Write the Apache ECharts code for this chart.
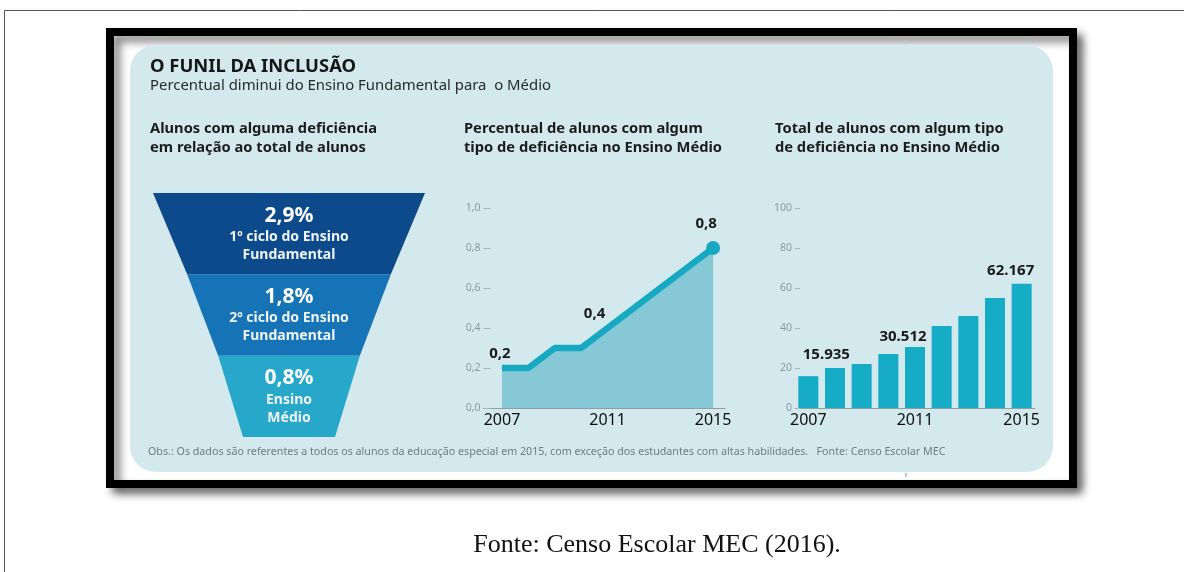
<!DOCTYPE html>
<html><head><meta charset="utf-8">
<script src="https://cdn.jsdelivr.net/npm/echarts@6/dist/echarts.min.js"></script>
<style>html,body{margin:0;padding:0;background:#fff}#c{width:1184px;height:572px}</style>
</head><body><div id="c"></div>
<script>
// ---- data ----
const stageNames = ['1º ciclo do Ensino\nFundamental', '2º ciclo do Ensino\nFundamental', 'Ensino\nMédio'];
const stagePct = [2.9, 1.8, 0.8];
const years = [2007, 2008, 2009, 2010, 2011, 2012, 2013, 2014, 2015];
const pctMedio = [0.2, 0.2, 0.3, 0.3, 0.4, 0.5, 0.6, 0.7, 0.8];
const totalMedio = [15.935, 20, 22, 27, 30.512, 41, 46, 55, 62.167]; // thousands
const yearTicks = [2007, 2011, 2015];
const labeledIdx = [0, 4, 8];

const FONT = 'Noto Sans';
const fmtComma = v => String(v).replace('.', ',');

const lineLabelOffsets = {0: [-2, 0], 4: [-13, 0], 8: [-7, -4]};
const barLabelOffsets = {0: [18, -9], 4: [-12, 2], 8: [-11, 0]};

const lineData = years.map((y, i) => {
  const d = {value: [y, pctMedio[i]], symbolSize: i === years.length - 1 ? 14 : 1};
  if (labeledIdx.includes(i)) d.label = {show: true, offset: lineLabelOffsets[i]};
  return d;
});
const barData = totalMedio.map((v, i) => {
  const d = {value: v};
  if (labeledIdx.includes(i)) d.label = {show: true, offset: barLabelOffsets[i]};
  return d;
});
const funnelData = stageNames.map((n, i) => ({name: n, value: stagePct[i]}));
const funnelColors = ['#0d4a8b', '#1673b6', '#27a8cb'];

const chart = echarts.init(document.getElementById('c'), null, {renderer: 'canvas'});

const txt = (x, y, text, size, weight, color, extra) => Object.assign({
  type: 'text', x: x, y: y, z: 10,
  style: Object.assign({text: text, fontFamily: FONT, fontSize: size, fontWeight: weight, fill: color, verticalAlign: 'middle'}, extra || {})
});

chart.setOption({
  animation: false,
  graphic: [
    {type: 'line', shape: {x1: 4.5, y1: 10.5, x2: 1184, y2: 10.5}, style: {stroke: '#555', lineWidth: 1}, z: -20},
    {type: 'line', shape: {x1: 4.5, y1: 10.5, x2: 4.5, y2: 572}, style: {stroke: '#555', lineWidth: 1}, z: -20},
    {type: 'rect', shape: {x: 110, y: 32, width: 963, height: 452}, z: -20,
      style: {fill: '#ffffff', stroke: '#000', lineWidth: 8, shadowBlur: 9, shadowOffsetX: 6, shadowOffsetY: 6, shadowColor: 'rgba(0,0,0,0.5)'}},
    {type: 'rect', shape: {x: 130, y: 45, width: 923, height: 427, r: 26}, z: -19, style: {fill: '#d4e9ee'}},
    {type: 'rect', shape: {x: 905, y: 40, width: 2, height: 4}, z: -18, style: {fill: '#b9c9cc'}},
    {type: 'rect', shape: {x: 905, y: 473, width: 2, height: 4}, z: -18, style: {fill: '#b9c9cc'}},
    txt(150, 67, 'O FUNIL DA INCLUSÃO', 18.4, 'bold', '#161616'),
    txt(150, 86, 'Percentual diminui do Ensino Fundamental para  o Médio', 14.9, 'normal', '#2a2a2a'),
    txt(150, 129, 'Alunos com alguma deficiência', 14.7, 'bold', '#1c1c1c'),
    txt(150, 148, 'em relação ao total de alunos', 14.7, 'bold', '#1c1c1c'),
    txt(464, 129, 'Percentual de alunos com algum', 14.7, 'bold', '#1c1c1c'),
    txt(464, 148, 'tipo de deficiência no Ensino Médio', 14.7, 'bold', '#1c1c1c'),
    txt(775, 129, 'Total de alunos com algum tipo', 14.7, 'bold', '#1c1c1c'),
    txt(775, 148, 'de deficiência no Ensino Médio', 14.7, 'bold', '#1c1c1c'),
    txt(148, 452, 'Obs.: Os dados são referentes a todos os alunos da educação especial em 2015, com exceção dos estudantes com altas habilidades.   Fonte: Censo Escolar MEC', 10.7, 'normal', '#6d7d82'),
    txt(657, 545, 'Fonte: Censo Escolar MEC (2016).', 26, 'normal', '#111', {fontFamily: 'Liberation Serif', align: 'center'})
  ],
  grid: [
    {left: 483.5, top: 208, width: 241.5, height: 200},
    {left: 795, top: 208, width: 240, height: 200}
  ],
  xAxis: [
    {type: 'value', gridIndex: 0, min: 2006.3, max: 2015.45,
      axisLine: {show: true, lineStyle: {color: '#8e9ea2', width: 1}},
      axisTick: {show: false}, splitLine: {show: false},
      axisLabel: {customValues: yearTicks, fontFamily: FONT, fontSize: 16, color: '#0e0e0e', margin: 4, formatter: v => String(v)}},
    {type: 'category', gridIndex: 1, data: years,
      axisLine: {show: true, lineStyle: {color: '#8e9ea2', width: 1}},
      axisTick: {show: false},
      axisLabel: {interval: 3, fontFamily: FONT, fontSize: 16, color: '#0e0e0e', margin: 4}}
  ],
  yAxis: [
    {type: 'value', gridIndex: 0, min: 0, max: 1, interval: 0.2,
      axisLine: {show: false}, splitLine: {show: false},
      axisTick: {show: true, inside: true, length: 7, lineStyle: {color: '#a7b6b9'}},
      axisLabel: {fontFamily: FONT, fontSize: 10.5, color: '#8a9a9f', margin: 3, formatter: v => v.toFixed(1).replace('.', ',')}},
    {type: 'value', gridIndex: 1, min: 0, max: 100, interval: 20,
      axisLine: {show: false}, splitLine: {show: false},
      axisTick: {show: true, inside: true, length: 5, lineStyle: {color: '#a7b6b9'}},
      axisLabel: {fontFamily: FONT, fontSize: 10.5, color: '#8a9a9f', margin: 3}}
  ],
  series: [
    {type: 'funnel', left: 153, top: 193, width: 272, height: 244, min: 0, max: 2.9,
      minSize: 92, maxSize: 272, sort: 'descending', gap: 0, funnelAlign: 'center',
      data: funnelData,
      itemStyle: {borderWidth: 0, color: p => funnelColors[p.dataIndex]},
      label: {show: true, position: 'inside', color: '#fff',
        formatter: p => '{v|' + fmtComma(p.value) + '%}\n{t|' + p.name.split('\n').join('}\n{t|') + '}',
        rich: {
          v: {fontFamily: FONT, fontSize: 21, fontWeight: 'bold', color: '#fff', lineHeight: 25},
          t: {fontFamily: FONT, fontSize: 14, fontWeight: 'bold', color: '#eef5fa', lineHeight: 18}
        }},
      labelLine: {show: false}
    },
    {type: 'line', xAxisIndex: 0, yAxisIndex: 0, data: lineData,
      symbol: 'circle', itemStyle: {color: '#17a9c2'},
      lineStyle: {color: '#17a9c2', width: 6.5},
      areaStyle: {color: '#86c8d6', opacity: 1},
      label: {show: false, position: 'top', distance: 6, fontFamily: FONT, fontSize: 15, fontWeight: 'bold', color: '#1a1a1a',
        formatter: p => fmtComma(p.value[1])}
    },
    {type: 'bar', xAxisIndex: 1, yAxisIndex: 1, data: barData, barWidth: 20,
      itemStyle: {color: '#16acc6'},
      label: {show: false, position: 'top', distance: 5, fontFamily: FONT, fontSize: 15, fontWeight: 'bold', color: '#1a1a1a',
        formatter: p => p.value.toFixed(3)}
    }
  ]
});
</script></body></html>
